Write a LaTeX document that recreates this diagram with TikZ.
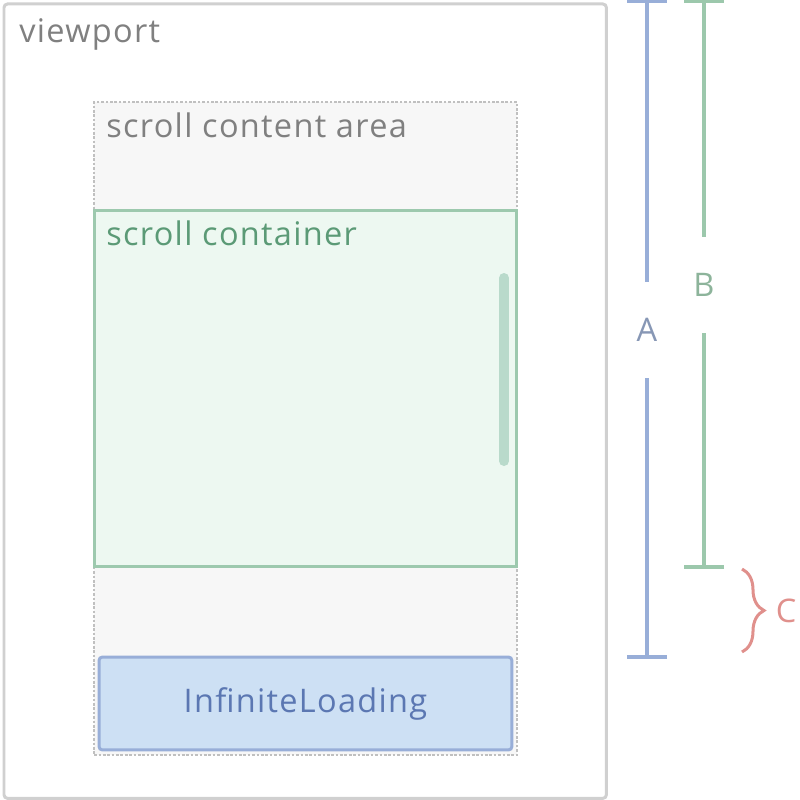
\documentclass[tikz,border=0pt]{standalone}
\usepackage{fontspec}
\setmainfont{Open Sans}[LetterSpace=4]
\usepackage{tikz}
\usetikzlibrary{arrows.meta, positioning, decorations.pathreplacing}
\definecolor{viewline}{HTML}{D0D0D0}
\definecolor{viewtext}{HTML}{808080}
\definecolor{areabg}{HTML}{F7F7F7}
\definecolor{arealine}{HTML}{C0C0C0}
\definecolor{contbg}{HTML}{EDF8F1}
\definecolor{contline}{HTML}{9DC9AE}
\definecolor{conttext}{HTML}{5B9A76}
\definecolor{barfill}{HTML}{B9DACB}
\definecolor{loadbg}{HTML}{CDE0F4}
\definecolor{loadline}{HTML}{98AED8}
\definecolor{loadtext}{HTML}{5B77B2}
\definecolor{dimb}{HTML}{9CC8AC}
\definecolor{dimc}{HTML}{E0908C}

\begin{document}
\begin{tikzpicture}[x=0.02cm, y=-0.02cm,
    font=\fontsize{18.5}{22}\selectfont,
    box/.style={inner sep=0pt, anchor=north west},
    lbl/.style={inner sep=0pt, anchor=base west},
    dimline/.style={line width=0.08cm},
    dimlbl/.style={inner sep=0pt, minimum height=1.92cm}]
  \useasboundingbox (0,0) rectangle (800,800);

  % boxes
  \node[box, draw=viewline, line width=0.06cm, fill=white, rounded corners=2pt,
        minimum width=12.05cm, minimum height=15.89cm] (viewport) at (2.5,2.5) {};
  \node[box, draw=arealine, line width=0.045cm, dashed, dash pattern=on 1.5pt off 1pt,
        fill=areabg, minimum width=8.46cm, minimum height=13.06cm] (area) at (93,101) {};
  \node[box, draw=contline, line width=0.06cm, fill=contbg,
        minimum width=8.46cm, minimum height=7.12cm] (cont) at (92.5,209.5) {};
  \node[box, draw=loadline, line width=0.06cm, fill=loadbg, rounded corners=2pt,
        minimum width=8.26cm, minimum height=1.86cm] (loading) at (97.5,655.5) {};
  \node[text=loadtext] (loadlbl) at (loading.center) {InfiniteLoading};

  % scrollbar
  \coordinate (bartop) at (504,278);
  \coordinate (barbot) at (504,461);
  \draw[barfill, line width=0.2cm, line cap=round] (bartop) -- (barbot);

  % box labels
  \node[lbl, text=viewtext] (viewlbl) at (19,43) {viewport};
  \node[lbl, text=viewtext] (arealbl) at (106,138) {scroll content area};
  \node[lbl, text=conttext] (contlbl) at (106,246) {scroll container};

  % dimension A
  \coordinate (Atop) at (647,-0.5);
  \coordinate (Abot) at (647,658.5);
  \node[dimlbl, text=loadline!80!black!90] (Alab) at (647,330) {A};
  \draw[dimline, loadline, {Bar[width=0.8cm]}-] (Atop) -- (Alab);
  \draw[dimline, loadline, -{Bar[width=0.8cm]}] (Alab) -- (Abot);

  % dimension B
  \coordinate (Btop) at (704,-0.5);
  \coordinate (Bbot) at (704,568.5);
  \node[dimlbl, text=dimb!90!black] (Blab) at (704,285) {B};
  \draw[dimline, dimb, {Bar[width=0.8cm]}-] (Btop) -- (Blab);
  \draw[dimline, dimb, -{Bar[width=0.8cm]}] (Blab) -- (Bbot);

  % dimension C
  \coordinate (Ctop) at (742,569);
  \coordinate (Cbot) at (742,652);
  \draw[dimc, line width=0.06cm, decorate,
        decoration={brace, amplitude=0.44cm}] (Ctop) -- (Cbot);
  \node[inner sep=0pt, text=dimc] (Clab) at (786,611) {C};
\end{tikzpicture}
\end{document}
